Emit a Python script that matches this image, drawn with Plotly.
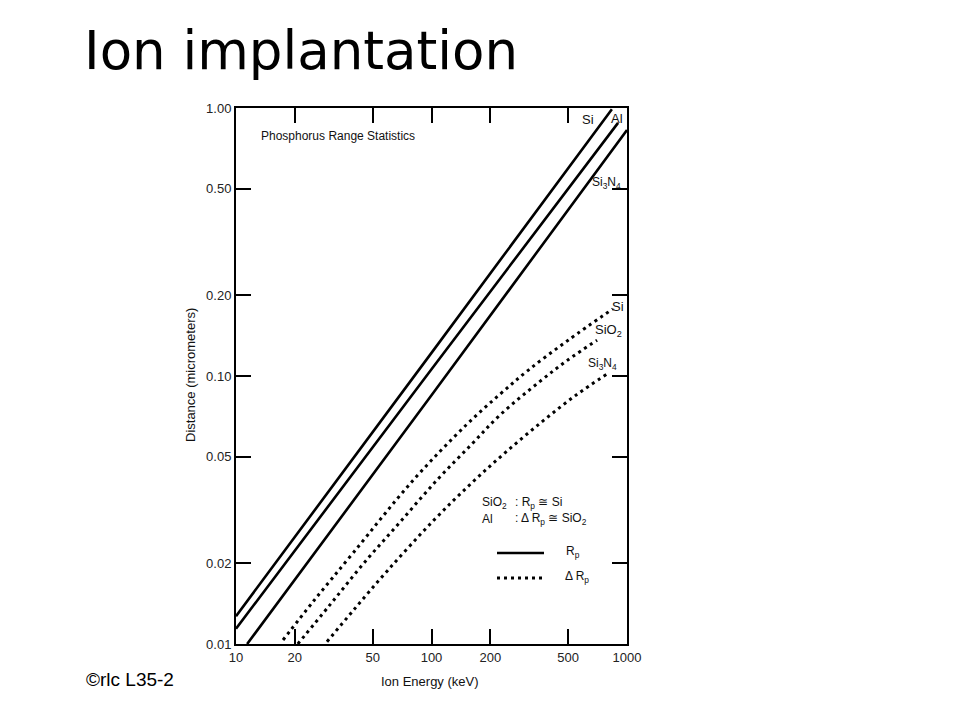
import plotly.graph_objects as go

# ---- data ----
# Projected range Rp (solid lines), micrometers vs keV
rp_si_energy = [10, 100, 837]
rp_si = [0.0127, 0.122, 0.99]
rp_al_energy = [10, 100, 900]
rp_al = [0.0114, 0.106, 0.88]
rp_si3n4_energy = [11.4, 100, 1000]
rp_si3n4 = [0.0100, 0.0847, 0.828]

# Straggle delta Rp (dotted lines)
drp_si_energy = [17.4, 25, 40, 80, 150, 224, 312, 500, 847]
drp_si = [0.01035, 0.0145, 0.022, 0.0406, 0.0655, 0.0855, 0.105, 0.136, 0.178]
drp_sio2_energy = [20.7, 30, 45, 69, 107, 160, 224, 359, 500, 703]
drp_sio2 = [0.0100, 0.0139, 0.0200, 0.0285, 0.0410, 0.0555, 0.0715, 0.0955, 0.115, 0.136]
drp_si3n4_energy = [29.2, 40, 60, 102, 160, 240, 372, 550, 791]
drp_si3n4 = [0.0102, 0.0134, 0.0189, 0.0288, 0.0398, 0.052, 0.068, 0.085, 0.1017]

x_tickvals = [10, 20, 50, 100, 200, 500, 1000]
x_ticktext = ["10", "20", "50", "100", "200", "500", "1000"]
y_tickvals = [0.01, 0.02, 0.05, 0.10, 0.20, 0.50, 1.00]
y_ticktext = ["0.01", "0.02", "0.05", "0.10", "0.20", "0.50", "1.00"]

# ---- layout geometry (page pixels; the page body adds an 8px offset) ----
W, H = 960, 720
OFF = 8
L, R, T, B = 236, 627, 108, 644


def px(x):
    return (x - L) / (R - L)


def py(y):
    return (B - y) / (B - T)


fig = go.Figure()
solid = dict(color="black", width=2.6)
dotted = dict(color="black", width=3, dash="3px,4px")

for ex, ey in [(rp_si_energy, rp_si), (rp_al_energy, rp_al), (rp_si3n4_energy, rp_si3n4)]:
    fig.add_trace(go.Scatter(x=ex, y=ey, mode="lines", line=solid, showlegend=False,
                             line_shape="spline"))
for ex, ey in [(drp_si_energy, drp_si), (drp_sio2_energy, drp_sio2), (drp_si3n4_energy, drp_si3n4)]:
    fig.add_trace(go.Scatter(x=ex, y=ey, mode="lines", line=dotted, showlegend=False,
                             line_shape="spline"))

tickfont = dict(family="Liberation Sans, Arial, sans-serif", size=13, color="#222")
axis_common = dict(showline=True, linecolor="black", linewidth=2, mirror="ticks",
                   ticks="inside", ticklen=15, tickwidth=1.5, tickcolor="black",
                   showgrid=False, zeroline=False, tickfont=tickfont)

fig.update_xaxes(type="log", range=[1, 3], tickvals=x_tickvals, ticktext=x_ticktext,
                 **axis_common)
fig.update_yaxes(type="log", range=[-2, 0], tickvals=y_tickvals, ticktext=y_ticktext,
                 **axis_common)

lab = dict(family="Liberation Sans, Arial, sans-serif", size=12, color="#111")
ann = []


def add(text, x, y, xanchor="center", size=None, font=None, **kw):
    f = dict(font or lab)
    if size:
        f["size"] = size
    ann.append(dict(text=text, x=px(x), y=py(y), xref="paper", yref="paper",
                    xanchor=xanchor, yanchor="middle", showarrow=False, font=f, **kw))


add("Phosphorus Range Statistics", 259, 136, xanchor="left", size=12)
add("Si", 588, 119, size=13)
add("Al", 617, 118, size=13)
add("Si<sub>3</sub>N<sub>4</sub>", 606, 183, size=12)
add("Si", 618, 306, size=13)
add("SiO<sub>2</sub>", 608, 330, size=13)
add("Si<sub>3</sub>N<sub>4</sub>", 602, 364, size=12)
add("SiO<sub>2</sub>", 480, 503, xanchor="left", size=12)
add(": R<sub>p</sub> \u2245 Si", 513, 503, xanchor="left", size=12)
add("Al", 480, 519, xanchor="left", size=12)
add(": \u0394 R<sub>p</sub> \u2245 SiO<sub>2</sub>", 513, 519, xanchor="left", size=12)
add("R<sub>p</sub>", 564, 552, xanchor="left", size=12)
add("\u0394 R<sub>p</sub>", 563, 577, xanchor="left", size=12)
add("Ion Energy (keV)", 430, 681, size=13)
add("Distance (micrometers)", 190, 375, size=13, textangle=-90)
add("Ion implantation", 82, 50, xanchor="left",
    font=dict(family="DejaVu Sans, sans-serif", size=53, color="black"))
add("\u00a9rlc L35-2", 176, 679, xanchor="right",
    font=dict(family="Liberation Sans, Arial, sans-serif", size=19, color="black"))

shapes = [
    dict(type="line", xref="paper", yref="paper", x0=px(497), x1=px(544), y0=py(553), y1=py(553),
         line=dict(color="black", width=2.6)),
    dict(type="line", xref="paper", yref="paper", x0=px(497), x1=px(543), y0=py(578), y1=py(578),
         line=dict(color="black", width=3, dash="3px,4px")),
]

fig.update_layout(width=W, height=H,
                  margin=dict(l=L - OFF, r=W - (R - OFF), t=T - OFF, b=H - (B - OFF)),
                  paper_bgcolor="white", plot_bgcolor="white",
                  annotations=ann, shapes=shapes)

fig.write_html("out.html")
